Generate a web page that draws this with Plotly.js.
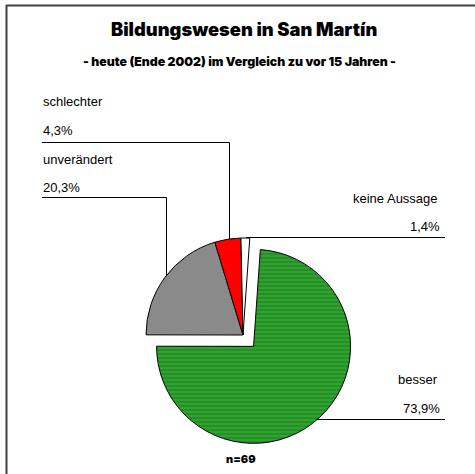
<!DOCTYPE html>
<html>
<head>
<meta charset="utf-8">
<script src="https://cdn.plot.ly/plotly-3.0.1.min.js"></script>
<style>html,body{margin:0;padding:0;background:#fff;}#chart{width:475px;height:474px;}</style>
</head>
<body>
<div id="chart"></div>
<script>
// Data
const categories = ["besser", "unverändert", "schlechter", "keine Aussage"];
const counts = [51, 14, 3, 1];
const percents = [73.9, 20.3, 4.3, 1.4];
const sliceColors = ["#33a033", "#8a8a8a", "#ff0000", "#ffffff"];
const pulls = [0.16, 0, 0, 0];
const titleText = "Bildungswesen in San Martín";
const subtitleText = "- heute (Ende 2002) im Vergleich zu vor 15 Jahren -";
const nText = "n=69";

const W = 475, H = 474;
const px = x => x / W;
const py = y => 1 - y / H;
const fmt = v => v.toFixed(1).replace('.', ',') + '%';
const FONT = "Liberation Sans, Arial, sans-serif";
const HEAVY = "Inter, Liberation Sans, sans-serif";

// label placement (layout)
const labelPos = {
  "schlechter":    {x: 41,  y1: 106, y2: 135, anchor: 'left'},
  "unverändert":   {x: 41,  y1: 164, y2: 192, anchor: 'left'},
  "keine Aussage": {x: 440, y1: 203, y2: 231, anchor: 'right'},
  "besser":        {x: 440, y1: 384, y2: 413, anchor: 'right'}
};

const annotations = [];
categories.forEach((c, i) => {
  const p = labelPos[c];
  annotations.push({xref:'paper', yref:'paper', x: px(p.x), y: py(p.y1 - 4.6), xanchor: p.anchor, yanchor:'middle',
    text: c, showarrow:false, font:{family:FONT, size:13, color:'#000'}});
  annotations.push({xref:'paper', yref:'paper', x: px(p.x + (p.anchor==='right'?2:0)), y: py(p.y2 - 4.6), xanchor: p.anchor, yanchor:'middle',
    text: fmt(percents[i]), showarrow:false, font:{family:FONT, size:13, color:'#000'}});
});
annotations.push({xref:'paper', yref:'paper', x: px(244), y: py(29), xanchor:'center', yanchor:'middle',
  text: titleText, showarrow:false, font:{family:HEAVY, size:18.3, weight:900, color:'#000'}});
annotations.push({xref:'paper', yref:'paper', x: px(239.5), y: py(62), xanchor:'center', yanchor:'middle',
  text: subtitleText, showarrow:false, font:{family:HEAVY, size:12.3, weight:900, color:'#000'}});
annotations.push({xref:'paper', yref:'paper', x: px(241), y: py(458.5), xanchor:'center', yanchor:'middle',
  text: nText, showarrow:false, font:{family:HEAVY, size:11, weight:900, color:'#000'}});

const seg = (x0, y0, x1, y1, col, w) => ({type:'line', xref:'paper', yref:'paper', layer:'below',
  x0: px(x0), y0: py(y0), x1: px(x1), y1: py(y1), line:{color: col || '#000', width: w || 1}});

const shapes = [
  // frame (top and left)
  seg(6, 5.5, 475, 5.5, '#404040', 2),
  seg(6.5, 5, 6.5, 474, '#404040', 2),
  // leader lines
  seg(42, 142.5, 229.5, 142.5), seg(229.5, 142.5, 229.5, 242),
  seg(42, 197.5, 166.5, 197.5), seg(166.5, 197.5, 166.5, 280),
  seg(246, 237.5, 445, 237.5),
  seg(310, 419.5, 445, 419.5)
];

const cx = 243, cy = 335, r = 97;
const half = r * (1 + Math.max(...pulls));

const trace = {
  type: 'pie',
  labels: categories,
  values: counts,
  sort: false,
  direction: 'clockwise',
  rotation: 4,
  pull: pulls,
  textinfo: 'none',
  hoverinfo: 'skip',
  showlegend: false,
  marker: {
    colors: sliceColors,
    line: {color: '#000', width: 1},
    pattern: {shape: ['-', '', '', ''], fgcolor: '#0b7a0b', size: 4, solidity: 0.4, fillmode: 'overlay'}
  },
  domain: {x: [px(cx - half), px(cx + half)], y: [py(cy + half), py(cy - half)]}
};

const layout = {
  width: W, height: H,
  margin: {l:0, r:0, t:0, b:0},
  paper_bgcolor: '#fff',
  showlegend: false,
  annotations: annotations,
  shapes: shapes
};

Plotly.newPlot('chart', [trace], layout, {displayModeBar:false, staticPlot:true});
</script>
</body>
</html>
